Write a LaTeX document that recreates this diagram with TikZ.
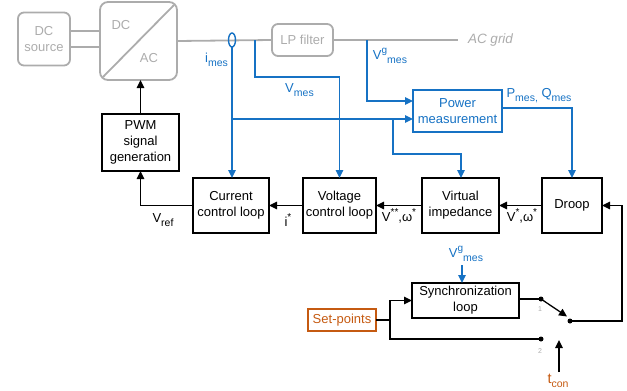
\documentclass[tikz,border=0pt]{standalone}
\usepackage{fontspec}
\setmainfont{Liberation Sans}
\usetikzlibrary{arrows.meta,shapes.geometric,calc}
\definecolor{cgrey}{RGB}{172,172,172}
\definecolor{cblue}{RGB}{22,114,196}
\definecolor{corange}{RGB}{197,90,17}
\newcommand\lo[1]{\raisebox{-0.55ex}{\fontsize{10.5}{11}\selectfont #1}}
\newcommand\hi[1]{\raisebox{0.8ex}{\fontsize{10}{11}\selectfont #1}}
\begin{document}
\begin{tikzpicture}[x=1pt,y=-1pt,
  every node/.style={inner sep=0pt, outer sep=0pt},
  txt/.style={font=\fontsize{13}{16}\selectfont, align=center},
  blk/.style={txt, draw=black, line width=1.4pt, fill=white},
  gbox/.style={txt, draw=cgrey, text=cgrey, line width=1.8pt, rounded corners=6pt},
  bbox/.style={txt, draw=cblue, text=cblue, line width=1.4pt, fill=white},
  obox/.style={txt, draw=corange, text=corange, line width=1.4pt},
  gry/.style={draw=cgrey, line width=1.8pt},
  conn/.style={draw=black, line width=1.3pt},
  bconn/.style={draw=cblue, line width=1.3pt},
  arr/.style={-{Triangle[length=8pt,width=7.5pt]}},
  blab/.style={txt, text=cblue},
  klab/.style={txt, text=black},
  dot/.style={circle, fill=black, minimum size=5pt},
  tiny/.style={font=\fontsize{7}{8}\selectfont, text=cgrey}]
\useasboundingbox (0,0) rectangle (627,391);

% grey power stage
\node[gbox, minimum width=52pt, minimum height=53pt] (dcsrc) at (44,39) {DC\\source};
\node[gbox, minimum width=77pt, minimum height=78pt, rounded corners=8pt] (dcac) at (138.5,41) {};
\draw[gry] ([shift={(3pt,3pt)}]dcac.south west) -- ([shift={(-3pt,-3pt)}]dcac.north east);
\node[txt, text=cgrey] (dclab) at (121,25) {DC};
\node[txt, text=cgrey] (aclab) at (149,58) {AC};
\node[gbox, minimum width=61pt, minimum height=32pt] (lp) at (302.5,40) {LP filter};
\node[txt, text=cgrey, font=\fontsize{13.5}{16}\selectfont\itshape, anchor=west] (grid) at (468,40) {AC grid};
\draw[gry] ([yshift=8pt]dcsrc.east) -- ([yshift=8pt]dcsrc.east -| dcac.west);
\draw[gry] ([yshift=-8pt]dcsrc.east) -- ([yshift=-8pt]dcsrc.east -| dcac.west);
\draw[gry] (dcac.east) -- (lp.west);
\draw[gry] (lp.east) -- ([xshift=-10pt]grid.west);

% control blocks
\node[blk, minimum width=77pt, minimum height=57pt] (pwm) at (140.5,142.5) {PWM\\signal\\generation};
\node[blk, minimum width=76pt, minimum height=55pt] (cur) at (231,205.5) {Current\\control loop};
\node[blk, minimum width=73pt, minimum height=55pt] (vc) at (339.5,205.5) {Voltage\\control loop};
\node[blk, minimum width=77pt, minimum height=55pt] (vi) at (460.5,205.5) {Virtual\\impedance};
\node[blk, minimum width=60pt, minimum height=55pt] (droop) at (572,205.5) {Droop};
\node[bbox, minimum width=89pt, minimum height=42pt] (pm) at (457.5,111) {Power\\measurement};
\node[blk, minimum width=107pt, minimum height=35pt] (sync) at (465.5,300.5) {Synchronization\\loop};
\node[obox, minimum width=68pt, minimum height=22pt] (sp) at (342,320) {Set-points};

% blue measurement paths
\node[ellipse, draw=cblue, line width=1.4pt, minimum width=7pt, minimum height=14pt] (sens) at (232,40) {};
\draw[bconn, arr] (sens.south) -- (sens.south |- cur.north);
\coordinate (ib) at (232,119);
\draw[bconn, arr] (ib) -- ([yshift=-8pt]pm.west);
\coordinate (vb) at (393,119);
\coordinate (vimid) at (461,154);
\draw[bconn, arr] (vb) |- (vimid) -- (vimid |- vi.north);
\coordinate (vm0) at (255,40);
\coordinate (vmc) at (339.5,77);
\draw[bconn, arr] (vm0) |- (vmc) -- (vc.north);
\coordinate (vg0) at (367,40);
\draw[bconn, arr] (vg0) |- ([yshift=10pt]pm.west);
\draw[bconn, arr] ([yshift=3pt]pm.east) -| (droop.north);

\node[blab] (limes) at (216.5,60) {i\lo{mes}};
\node[blab] (lvmes) at (299.5,90) {V\lo{mes}};
\node[blab] (lvg) at (390,56) {V\hi{g}\lo{mes}};
\node[blab] (lpq) at (539,96) {P\lo{mes,} Q\lo{mes}};

% black signal chain
\draw[conn, arr] (droop.west) -- (vi.east);
\draw[conn, arr] (vi.west) -- (vc.east);
\draw[conn, arr] (vc.west) -- (cur.east);
\draw[conn, arr] (cur.west) -| (pwm.south);
\draw[conn, arr] (pwm.north) -- (pwm.north |- dcac.south);

\node[klab] (lvref) at (163,220) {V\lo{ref}};
\node[klab] (listar) at (288,220) {i\hi{*}};
\node[klab] (lvss) at (399,216) {V\hi{**},ω\hi{*}};
\node[klab] (lvs) at (522,216) {V\hi{*},ω\hi{*}};

% synchronization and switch
\node[blab] (lvgs) at (466,254) {V\hi{g}\lo{mes}};
\coordinate (vgsb) at (462,265);
\draw[bconn, arr] (vgsb) -- (vgsb |- sync.north);

\coordinate (spj) at (390,320);
\node[dot] (s1) at (541,299) {};
\node[dot] (s2) at (541,339) {};
\node[dot] (so) at (570,321) {};
\draw[conn] (sp.east) -- (spj);
\draw[conn, arr] (spj) |- (sync.west);
\draw[conn] (spj) |- (s2);
\draw[conn] (s1 -| sync.east) -- (s1);
\coordinate (armtip) at (567,316.5);
\draw[conn, arr] (s1.center) -- (armtip);
\coordinate (rt) at (622,321);
\draw[conn, arr] (so.center) -- (rt) |- (droop.east);
\node[tiny] (n1) at (540,309) {1};
\node[tiny] (n2) at (540,351) {2};

\node[txt, text=corange, font=\fontsize{14.5}{16}\selectfont] (tcon) at (558,381) {t\lo{con}};
\coordinate (tcb) at (559,372);
\coordinate (tct) at (559,340);
\draw[conn, arr] (tcb) -- (tct);
\end{tikzpicture}
\end{document}
